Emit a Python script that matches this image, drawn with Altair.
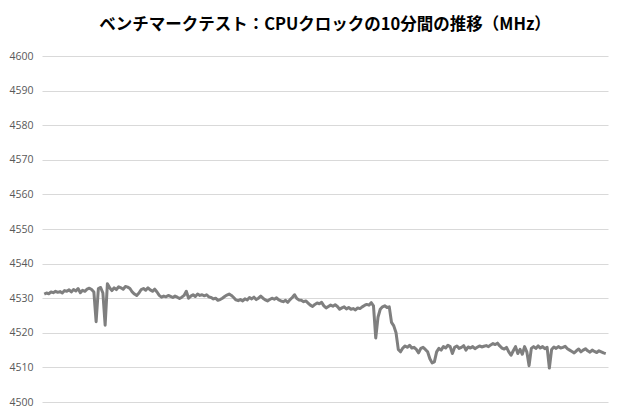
import altair as alt
import pandas as pd

values = [
    4531.2, 4531.5, 4531.3, 4531.8, 4531.6, 4532.0, 4531.7, 4531.9, 4531.5, 4532.2,
    4532.0, 4532.4, 4531.8, 4532.5, 4532.1, 4532.8, 4531.6, 4532.3, 4532.0, 4532.6,
    4532.9, 4532.5, 4531.8, 4523.2, 4532.8, 4533.1, 4531.5, 4522.2, 4534.2, 4533.0,
    4532.2, 4533.0, 4532.5, 4533.3, 4533.0, 4532.6, 4533.4, 4533.2, 4532.8, 4531.8,
    4531.2, 4530.8, 4531.5, 4532.5, 4532.8, 4532.3, 4533.0, 4532.4, 4532.0, 4532.6,
    4531.8, 4530.8, 4530.3, 4530.6, 4530.4, 4530.8, 4530.5, 4530.2, 4530.6, 4530.3,
    4529.9, 4530.3, 4530.8, 4532.0, 4530.0, 4530.6, 4531.0, 4530.5, 4531.2, 4530.8,
    4531.0, 4530.7, 4531.0, 4530.4, 4530.2, 4529.8, 4530.0, 4529.4, 4529.6, 4530.0,
    4530.5, 4530.9, 4531.2, 4530.8, 4530.2, 4529.5, 4529.3, 4529.6, 4529.2, 4529.8,
    4529.5, 4530.2, 4529.8, 4530.3, 4529.6, 4530.0, 4530.6, 4530.0, 4529.5, 4529.2,
    4529.6, 4530.0, 4529.7, 4530.1, 4529.5, 4529.2, 4529.0, 4529.4, 4528.8, 4529.6,
    4530.2, 4531.0, 4529.9, 4529.5, 4529.4, 4529.0, 4529.2, 4528.6, 4528.0, 4527.6,
    4528.2, 4528.6, 4528.4, 4528.8, 4527.8, 4527.2, 4527.6, 4528.0, 4527.7, 4528.1,
    4527.6, 4526.8, 4527.2, 4527.5, 4526.9, 4527.3, 4526.8, 4527.0, 4526.6, 4527.2,
    4527.0, 4527.5, 4527.9, 4528.2, 4528.0, 4528.7, 4527.8, 4518.5, 4524.5, 4526.8,
    4527.5, 4527.8, 4527.3, 4527.5, 4523.0, 4522.0, 4520.0, 4515.2, 4514.5, 4515.6,
    4516.2, 4515.8, 4516.4, 4515.6, 4515.8, 4515.2, 4514.2, 4515.5, 4515.8, 4515.2,
    4514.5, 4512.5, 4511.3, 4511.6, 4514.5, 4515.5, 4515.0, 4516.0, 4515.6, 4516.4,
    4516.0, 4514.0, 4515.8, 4516.2, 4515.5, 4515.8, 4516.3, 4515.0, 4515.9, 4515.6,
    4516.0, 4515.4, 4515.8, 4516.2, 4515.9, 4516.1, 4516.3, 4516.0, 4516.5, 4516.9,
    4516.6, 4517.0, 4516.2, 4515.6, 4515.3, 4515.8, 4514.5, 4513.5, 4514.8, 4516.0,
    4514.0, 4515.2, 4513.8, 4516.0, 4514.5, 4510.5, 4515.5, 4516.0, 4515.5, 4516.2,
    4515.6, 4516.0, 4515.4, 4515.8, 4509.8, 4515.2, 4515.9, 4515.5, 4516.0, 4515.6,
    4515.8, 4516.1, 4515.4, 4515.0, 4514.6, 4514.2, 4514.8, 4515.3, 4514.5, 4515.0,
    4515.4, 4514.8, 4514.4, 4515.0, 4514.6, 4514.3, 4514.8, 4514.5, 4514.2, 4514.0,
]
y_ticks = [4500, 4510, 4520, 4530, 4540, 4550, 4560, 4570, 4580, 4590, 4600]
title_text = "ベンチマークテスト：CPUクロックの10分間の推移（MHz）"

df = pd.DataFrame({"i": list(range(len(values))), "mhz": values})

chart = (
    alt.Chart(df)
    .mark_line(color="#7f7f7f", strokeWidth=3, strokeJoin="round")
    .encode(
        x=alt.X("i:Q", axis=None, scale=alt.Scale(domain=[-1, len(values)], nice=False, zero=False)),
        y=alt.Y(
            "mhz:Q",
            scale=alt.Scale(domain=[4500, 4600], nice=False, zero=False),
            axis=alt.Axis(
                values=y_ticks,
                format="d",
                title=None,
                domain=False,
                ticks=False,
                labelPadding=9,
                labelColor="#595959",
                labelFontSize=10.5,
                labelFont="Open Sans",
                gridColor="#d9d9d9",
                gridWidth=1,
            ),
        ),
    )
    .properties(
        width=566,
        height=346,
        autosize=alt.AutoSizeParams(type="none"),
        padding={"left": 34, "top": 48, "right": 4, "bottom": 5},
        title=alt.TitleParams(
            text=title_text,
            font="Noto Sans CJK JP",
            fontSize=16.5,
            fontWeight="bold",
            color="#000000",
            anchor="middle",
            offset=18,
        ),
    )
    .configure_view(stroke=None)
)

chart.save("out.html", embed_options={"renderer": "svg", "actions": False})
